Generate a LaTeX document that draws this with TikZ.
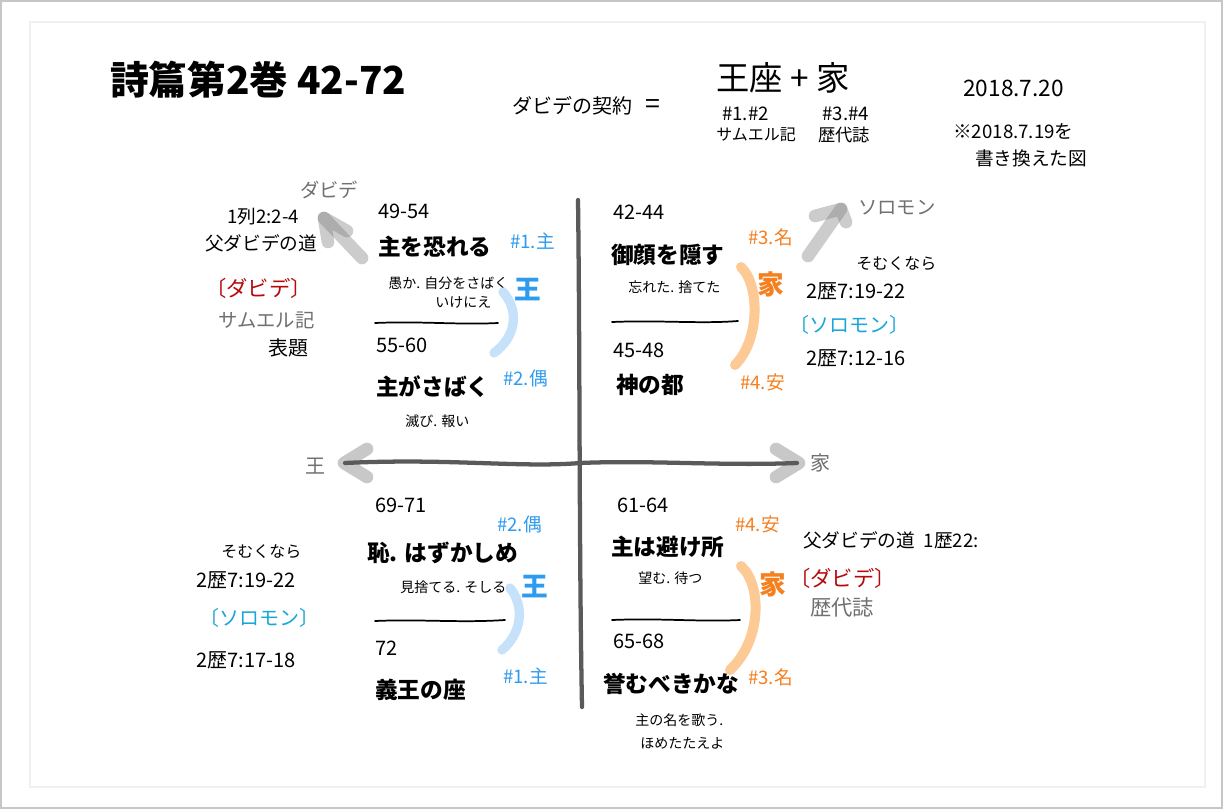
\documentclass[tikz,border=0pt]{standalone}
\usepackage{fontspec}
\setmainfont{Noto Sans CJK JP}
\definecolor{kblue}{HTML}{2F9BEF}
\definecolor{arcblue}{HTML}{C6E2FB}
\definecolor{korange}{HTML}{F5801F}
\definecolor{arcorange}{HTML}{FDC995}
\definecolor{kred}{HTML}{B50A0A}
\definecolor{kcyan}{HTML}{1AA6D9}
\definecolor{kgray}{HTML}{707070}
\definecolor{axis}{HTML}{5A5A5A}
\definecolor{tipgray}{HTML}{C8C8C8}
\newcommand{\fsz}[1]{\fontsize{#1}{#1}\selectfont}
\begin{document}
\begin{tikzpicture}[x=0.75pt,y=-0.75pt,
  t/.style={anchor=west,inner sep=0pt},
  title/.style={t,font=\fsz{29}\bfseries},
  head/.style={t,font=\fsz{15}},
  num/.style={t,font=\fsz{15}},
  big/.style={t,font=\fsz{17}\bfseries},
  small/.style={t,font=\fsz{10.5}},
  note/.style={t,font=\fsz{12}},
  refnote/.style={t,font=\fsz{15}},
  bluetxt/.style={t,font=\fsz{14},text=kblue},
  orgtxt/.style={t,font=\fsz{14},text=korange},
  bigking/.style={t,font=\fsz{20}\bfseries,text=kblue},
  bighouse/.style={t,font=\fsz{20}\bfseries,text=korange},
  redname/.style={t,font=\fsz{16},text=kred},
  cyanname/.style={t,font=\fsz{15},text=kcyan},
  graytxt/.style={t,font=\fsz{14.5},text=kgray},
  axisline/.style={draw=axis,line width=3.2pt,line cap=round},
  chev/.style={draw=tipgray,line width=9.5pt,line cap=round,line join=round},
  diag/.style={draw=gray,opacity=0.4,line width=9.5pt,line cap=round,line join=round},
  bluearc/.style={draw=arcblue,line width=7pt,line cap=round},
  orgarc/.style={draw=arcorange,line width=7.5pt,line cap=round},
  sep/.style={draw=black,line width=1.3pt,line cap=round}
]
\useasboundingbox (0,0) rectangle (1223,809);
\fill[white] (0,0) rectangle (1223,809);
\draw[gray!45,line width=2pt] (1,1) rectangle (1222,808);
\draw[gray!12,line width=0.8pt] (30,22) rectangle (1205,787);

% header
\node[title] (ttl) at (110,80) {詩篇第2巻 42-72};
\node[head] (cov) at (512,106) {ダビデの契約\ \ \ \fsz{20}=};
\node[t,font=\fsz{25}] (thr) at (716,78) {王座\ +\ 家};
\node[t,font=\fsz{14}] (n12) at (722,114) {\#1.\#2};
\node[note] (sam) at (716,135) {サムエル記};
\node[t,font=\fsz{14}] (n34) at (822,114) {\#3.\#4};
\node[t,font=\fsz{13}] (chr) at (818,135) {歴代誌};
\node[t,font=\fsz{17}] (date) at (963,88) {2018.7.20};
\node[t,font=\fsz{14}] (rw1) at (953,131) {※2018.7.19を};
\node[t,font=\fsz{14}] (rw2) at (975,158) {書き換えた図};

% axes
\coordinate (vt) at (578,200);
\coordinate (vb) at (582,707);
\coordinate (hl) at (345,463);
\coordinate (hr) at (797,463);
\draw[chev] (367,449) -- (344,463) -- (367,477);
\draw[chev] (776,449) -- (799,463) -- (776,477);
\draw[axisline] (vt) .. controls (580,350) and (579,550) .. (vb);
\draw[axisline] (hl) .. controls (450,458) and (520,468) .. (580,463) .. controls (650,460) and (720,466) .. (hr);
\node[t,font=\fsz{15},text=kgray] (ko) at (305,466) {王};
\node[t,font=\fsz{15},text=kgray] (ie) at (810,463) {家};

% diagonal arrows
\coordinate (dl1) at (362,258);
\coordinate (dl2) at (324,218);
\draw[diag] (dl1) -- (dl2);
\draw[diag] (328,242) -- (dl2) -- (347,231);
\node[graytxt] (dvd) at (300,190) {ダビデ};
\coordinate (dr1) at (808,256);
\coordinate (dr2) at (841,209);
\draw[diag] (dr1) -- (dr2);
\draw[diag] (815,216) -- (dr2) -- (846,222);
\node[graytxt] (sol) at (858,208) {ソロモン};

% top-left notes
\node[t,font=\fsz{14}] (r1) at (227,217) {1列2:2-4};
\node[t,font=\fsz{14}] (tl1) at (205,243) {父ダビデの道};
\node[redname] (tl2) at (205,288) {〔ダビデ〕};
\node[graytxt] (tl3) at (218,320) {サムエル記};
\node[t,font=\fsz{15}] (tl4) at (268,348) {表題};

% upper-left quadrant
\node[num] (a1) at (378,211) {49-54};
\node[big] (a2) at (378,247) {主を恐れる};
\node[small] (a3) at (388,283) {愚か. 自分をさばく};
\node[small] (a4) at (435,302) {いけにえ};
\draw[sep] (375,323) .. controls (420,321) and (460,325) .. (498,323);
\node[num] (a5) at (376,345) {55-60};
\node[big] (a6) at (376,387) {主がさばく};
\node[small] (a7) at (405,421) {滅び. 報い};
\node[bluetxt] (a8) at (510,241) {\#1.主};
\node[bigking] (a9) at (514,290) {王};
\node[bluetxt] (a10) at (503,378) {\#2.偶};
\draw[bluearc] (503,292) .. controls (519,310) and (517,336) .. (494,353);

% upper-right quadrant
\node[num] (b1) at (613,212) {42-44};
\node[big] (b2) at (611,255) {御顔を隠す};
\node[small] (b3) at (628,287) {忘れた. 捨てた};
\draw[sep] (612,322) .. controls (660,320) and (700,324) .. (738,321);
\node[num] (b4) at (613,350) {45-48};
\node[big] (b5) at (616,385) {神の都};
\node[orgtxt] (b6) at (748,237) {\#3.名};
\node[bighouse] (b7) at (757,284) {家};
\node[orgtxt] (b8) at (740,382) {\#4.安};
\draw[orgarc] (741,267) .. controls (760,285) and (760,340) .. (735,365);

% right notes
\node[note] (rn1) at (856,264) {そむくなら};
\node[refnote] (rn2) at (806,291) {2歴7:19-22};
\node[cyanname] (rn3) at (789,325) {〔ソロモン〕};
\node[refnote] (rn4) at (806,358) {2歴7:12-16};

% lower-left notes
\node[note] (ln1) at (221,552) {そむくなら};
\node[refnote] (ln2) at (196,580) {2歴7:19-22};
\node[cyanname] (ln3) at (199,618) {〔ソロモン〕};
\node[refnote] (ln4) at (196,660) {2歴7:17-18};

% lower-left quadrant
\node[num] (c1) at (375,505) {69-71};
\node[big] (c2) at (367,553) {恥. はずかしめ};
\node[small] (c3) at (400,587) {見捨てる. そしる};
\draw[sep] (375,621) .. controls (420,619) and (460,623) .. (505,620);
\node[num] (c4) at (375,648) {72};
\node[big] (c5) at (375,690) {義王の座};
\node[bluetxt] (c6) at (497,524) {\#2.偶};
\node[bigking] (c7) at (521,587) {王};
\node[bluetxt] (c8) at (503,676) {\#1.主};
\draw[bluearc] (510,588) .. controls (524,605) and (523,632) .. (502,650);

% lower-right quadrant
\node[num] (d1) at (617,505) {61-64};
\node[big] (d2) at (611,547) {主は避け所};
\node[small] (d3) at (638,578) {望む. 待つ};
\draw[sep] (612,620) .. controls (660,618) and (700,622) .. (740,620);
\node[num] (d4) at (613,641) {65-68};
\node[big] (d5) at (603,684) {誉むべきかな};
\node[small] (d6) at (635,720) {主の名を歌う.};
\node[small] (d7) at (640,743) {ほめたたえよ};
\node[orgtxt] (d8) at (735,524) {\#4.安};
\node[bighouse] (d9) at (759,584) {家};
\node[orgtxt] (d10) at (748,677) {\#3.名};
\draw[orgarc] (741,566) .. controls (762,585) and (762,640) .. (730,670);

% lower-right notes
\node[t,font=\fsz{14}] (e1) at (803,540) {父ダビデの道\ \ 1歴22:};
\node[redname] (e2) at (789,578) {〔ダビデ〕};
\node[t,font=\fsz{16},text=kgray] (e3) at (810,607) {歴代誌};
\end{tikzpicture}
\end{document}
